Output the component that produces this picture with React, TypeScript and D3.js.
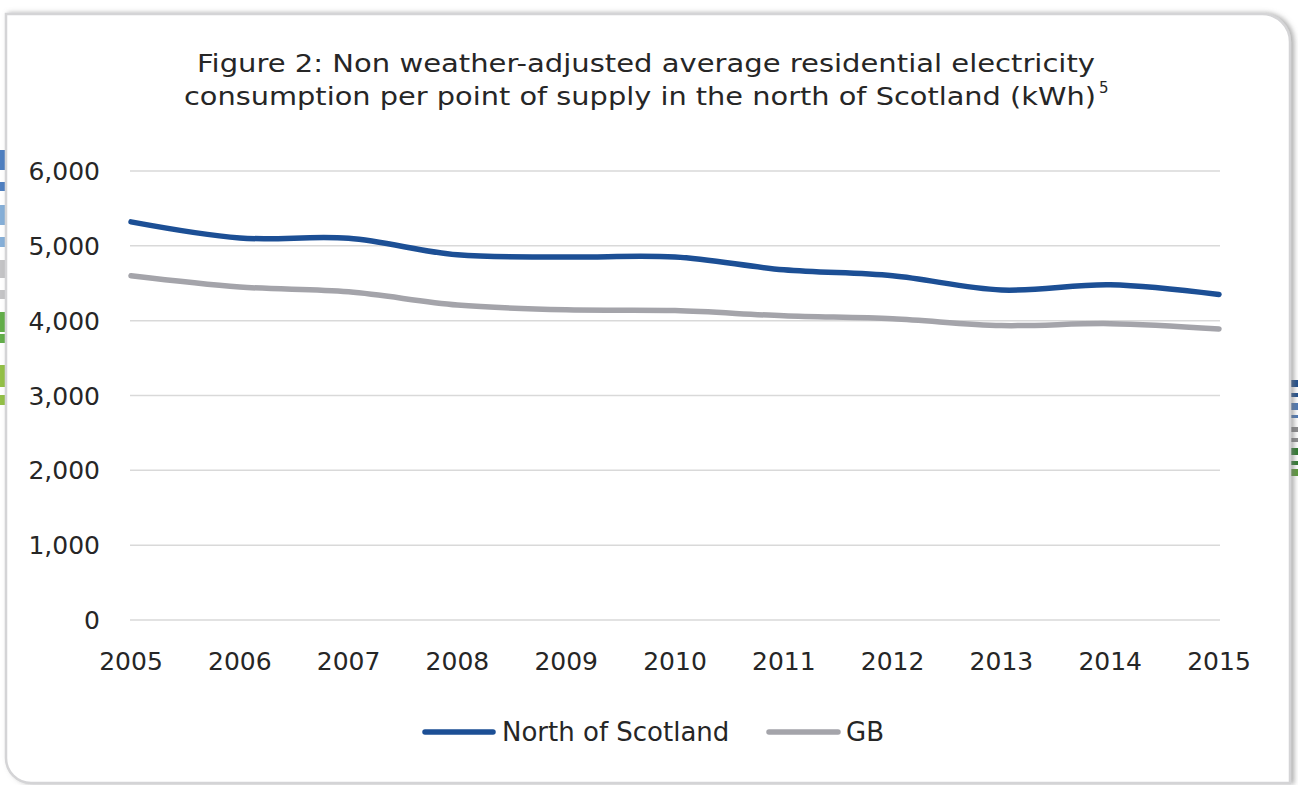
import React from "react";
import * as d3 from "d3";

// Years on the category axis
const years: string[] = ["2005", "2006", "2007", "2008", "2009", "2010", "2011", "2012", "2013", "2014", "2015"];

// Average residential electricity consumption per point of supply (kWh)
const northOfScotland: number[] = [5320, 5105, 5100, 4880, 4850, 4850, 4680, 4600, 4410, 4480, 4350];
const gb: number[] = [4600, 4450, 4385, 4210, 4145, 4135, 4065, 4025, 3935, 3960, 3890];

const yTicks: number[] = [0, 1000, 2000, 3000, 4000, 5000, 6000];

const titleLines: string[] = [
  "Figure 2: Non weather-adjusted average residential electricity",
  "consumption per point of supply in the north of Scotland (kWh)",
];

// Decorative edge stripes: [y, height, colour]
const leftStripes: [number, number, string][] = [
  [150, 20, "#4f7fc0"], [182, 9, "#4f7fc0"],
  [205, 20, "#86afd8"], [237, 10, "#86afd8"],
  [260, 18, "#c4c4c6"], [290, 9, "#c4c4c6"],
  [312, 20, "#63ae4a"], [334, 9, "#63ae4a"],
  [365, 22, "#93c047"], [395, 10, "#93c047"],
];
const rightStripes: [number, number, string][] = [
  [380, 7, "#1f4e8c"], [393, 4, "#1f4e8c"],
  [403, 7, "#4d78b5"], [415, 3, "#4d78b5"],
  [427, 5, "#8a8a8c"], [438, 4, "#8a8a8c"],
  [448, 7, "#2d7a2e"], [461, 4, "#2d7a2e"],
  [469, 7, "#5b9a3a"],
];

const W = 1298;
const H = 785;
const FONT = "'DejaVu Sans', 'Open Sans', sans-serif";

export default function App() {
  const x = d3.scalePoint<string>().domain(years).range([131, 1219]);
  const y = d3.scaleLinear().domain([0, 6000]).range([620, 171]);

  const line = d3
    .line<number>()
    .x((_, i) => x(years[i]) as number)
    .y((d) => y(d))
    .curve(d3.curveCardinal.tension(0));

  const series = [
    { name: "North of Scotland", values: northOfScotland, color: "#1c4f95" },
    { name: "GB", values: gb, color: "#a4a4aa" },
  ];

  const fmt = d3.format(",");

  // Card outline: square top-left corner, rounded top-right and bottom-left
  const cardPath =
    "M 6 14 H 1262 A 28 28 0 0 1 1290 42 V 783 H 31 A 25 25 0 0 1 6 758 Z";

  return (
    <svg
      width={W}
      height={H}
      style={{ position: "absolute", left: 0, top: 0, background: "#ffffff" }}
    >
      <defs>
        <filter id="cardShadow" x="-5%" y="-5%" width="110%" height="110%">
          <feDropShadow dx="3" dy="0" stdDeviation="2.5" floodColor="#7a7a7a" floodOpacity="0.6" />
        </filter>
      </defs>

      {leftStripes.map(([sy, sh, c], i) => (
        <rect key={`l${i}`} x={0} y={sy} width={6} height={sh} fill={c} />
      ))}
      {rightStripes.map(([sy, sh, c], i) => (
        <rect key={`r${i}`} x={1290} y={sy} width={8} height={sh} fill={c} />
      ))}

      <path d={cardPath} fill="#ffffff" stroke="#d4d4d6" strokeWidth={2.5} filter="url(#cardShadow)" />

      {/* Title */}
      <g fontFamily={FONT} fontSize={24} fill="#262626" textAnchor="middle">
        <text x={646} y={72} textLength={898} lengthAdjust="spacingAndGlyphs">
          {titleLines[0]}
        </text>
        <text x={640} y={105} textLength={912} lengthAdjust="spacingAndGlyphs">
          {titleLines[1]}
        </text>
        <text x={1099} y={93} fontSize={15} textAnchor="start">
          5
        </text>
      </g>

      {/* Gridlines and y-axis labels */}
      <g>
        {yTicks.map((t) => (
          <line key={t} x1={130} x2={1220} y1={y(t)} y2={y(t)} stroke="#d9d9d9" strokeWidth={1.5} />
        ))}
      </g>
      <g fontFamily={FONT} fontSize={25} fill="#262626" textAnchor="end">
        {yTicks.map((t) => (
          <text key={t} x={100} y={y(t)} dy="0.36em">
            {fmt(t)}
          </text>
        ))}
      </g>

      {/* x-axis labels */}
      <g fontFamily={FONT} fontSize={25} fill="#262626" textAnchor="middle">
        {years.map((yr) => (
          <text key={yr} x={x(yr) as number} y={670}>
            {yr}
          </text>
        ))}
      </g>

      {/* Series lines */}
      {series.map((s) => (
        <path
          key={s.name}
          d={line(s.values) || ""}
          fill="none"
          stroke={s.color}
          strokeWidth={5.5}
          strokeLinecap="round"
          strokeLinejoin="round"
        />
      ))}

      {/* Legend */}
      <g fontFamily={FONT} fontSize={26} fill="#262626">
        <line x1={425} x2={493} y1={732} y2={732} stroke={series[0].color} strokeWidth={5.5} strokeLinecap="round" />
        <text x={502} y={741}>{series[0].name}</text>
        <line x1={769} x2={838} y1={732} y2={732} stroke={series[1].color} strokeWidth={5.5} strokeLinecap="round" />
        <text x={846} y={741}>{series[1].name}</text>
      </g>
    </svg>
  );
}
